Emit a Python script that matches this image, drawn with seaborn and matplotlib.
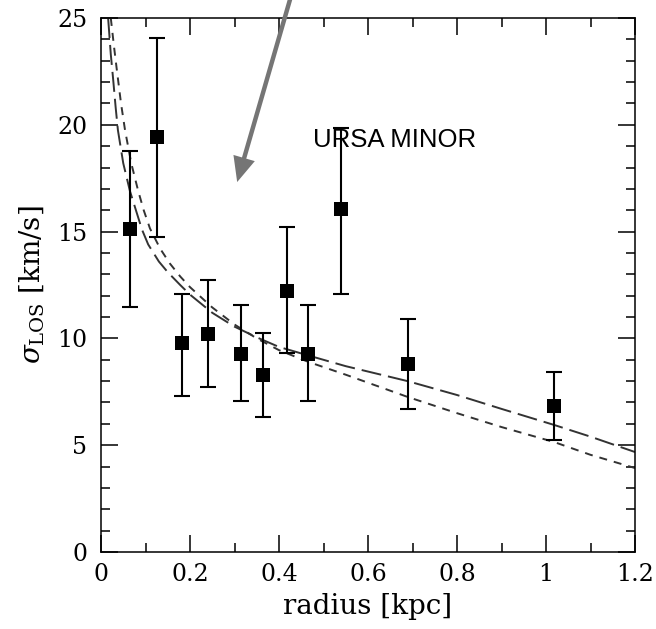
import numpy as np
import pandas as pd
import matplotlib
matplotlib.use("Agg")
import matplotlib.pyplot as plt
from matplotlib.ticker import MultipleLocator
import seaborn as sns

# ---- data ----
radius = [0.065, 0.126, 0.182, 0.241, 0.315, 0.364, 0.418, 0.466, 0.539, 0.689, 1.018]
sigma = [15.12, 19.43, 9.78, 10.20, 9.27, 8.29, 12.22, 9.27, 16.05, 8.80, 6.84]
err_hi = [18.77, 24.06, 12.10, 12.73, 11.56, 10.25, 15.20, 11.56, 19.86, 10.90, 8.43]
err_lo = [11.47, 14.75, 7.30, 7.72, 7.07, 6.32, 9.30, 7.07, 12.10, 6.70, 5.24]

model_a_r = [0.016, 0.022, 0.027, 0.033, 0.038, 0.05, 0.065, 0.08, 0.092, 0.106, 0.13,
             0.15, 0.178, 0.2, 0.25, 0.3, 0.35, 0.4, 0.466, 0.55, 0.689, 0.8, 0.9,
             1.018, 1.1, 1.2]
model_a_s = [25.0, 23.3, 22.2, 20.8, 19.75, 18.2, 16.9, 15.9, 15.1, 14.4, 13.6,
             13.1, 12.5, 12.05, 11.2, 10.55, 10.05, 9.6, 9.2, 8.7, 8.0, 7.35, 6.7,
             5.95, 5.4, 4.68]
model_b_r = [0.022, 0.029, 0.036, 0.045, 0.054, 0.068, 0.083, 0.096, 0.11, 0.133,
             0.155, 0.178, 0.2, 0.25, 0.3, 0.35, 0.4, 0.466, 0.55, 0.689, 0.8, 0.9,
             1.018, 1.1, 1.2]
model_b_s = [25.0, 23.7, 22.5, 21.0, 19.75, 18.2, 16.95, 16.0, 15.15, 14.2,
             13.5, 12.9, 12.4, 11.45, 10.65, 10.0, 9.45, 8.9, 8.3, 7.26, 6.5, 5.85,
             5.15, 4.55, 3.93]

label_text = "URSA MINOR"
xticks = [0, 0.2, 0.4, 0.6, 0.8, 1, 1.2]
xtick_labels = ["0", "0.2", "0.4", "0.6", "0.8", "1", "1.2"]
yticks = [0, 5, 10, 15, 20, 25]

sns.set_theme(style="ticks")
plt.rcParams["font.family"] = ["DejaVu Serif"]
plt.rcParams["mathtext.fontset"] = "dejavuserif"
plt.rcParams["text.color"] = "black"
plt.rcParams["axes.labelcolor"] = "black"
plt.rcParams["xtick.color"] = "black"
plt.rcParams["ytick.color"] = "black"

fig = plt.figure(figsize=(6.56, 6.29), dpi=100)
ax = fig.add_axes([101 / 656, 77 / 629, 534 / 656, 534 / 629])

df_a = pd.DataFrame({"r": model_a_r, "s": model_a_s})
df_b = pd.DataFrame({"r": model_b_r, "s": model_b_s})
lw = 1.4
sns.lineplot(data=df_a, x="r", y="s", ax=ax, color="#333333", lw=lw,
             sort=False, estimator=None, dashes=False)
sns.lineplot(data=df_b, x="r", y="s", ax=ax, color="#333333", lw=lw,
             sort=False, estimator=None, dashes=False)
ax.lines[0].set_dashes((10.3, 3.6))
ax.lines[1].set_dashes((4.1, 3.6))

s_arr = np.array(sigma)
yerr = np.vstack([s_arr - np.array(err_lo), np.array(err_hi) - s_arr])
ax.errorbar(radius, sigma, yerr=yerr, fmt="none", ecolor="black",
            elinewidth=1.5, capsize=6, capthick=1.5, zorder=3)
df_pts = pd.DataFrame({"r": radius, "s": sigma})
sns.scatterplot(data=df_pts, x="r", y="s", ax=ax, marker="s", s=90,
                color="black", edgecolor="black", linewidth=0, zorder=4)

ax.set_xlim(0, 1.2)
ax.set_ylim(0, 25)
ax.set_xticks(xticks)
ax.set_xticklabels(xtick_labels)
ax.set_yticks(yticks)
ax.xaxis.set_minor_locator(MultipleLocator(0.1))
ax.yaxis.set_minor_locator(MultipleLocator(1))
ax.tick_params(which="both", direction="in", top=True, right=True,
               width=1.1, colors="black", labelsize=17)
ax.tick_params(which="major", length=12.5)
ax.tick_params(which="minor", length=6.5)
ax.tick_params(axis="x", which="major", pad=8)
ax.tick_params(axis="y", which="major", pad=10)
for sp in ax.spines.values():
    sp.set_visible(True)
    sp.set_linewidth(1.1)
    sp.set_color("black")

ax.set_xlabel("radius [kpc]", fontsize=20, labelpad=5, color="black")
ax.set_ylabel(r"$\sigma_{\rm LOS}$ [km/s]", fontsize=20, labelpad=8, color="black")

ax.text(0.476, 18.96, label_text, fontsize=18.5, va="baseline", ha="left",
        family=["Liberation Sans", "DejaVu Sans"], color="black", zorder=6)

ax.annotate("", xy=(0.306, 17.32), xytext=(0.435, 26.6),
            xycoords="data", textcoords="data", annotation_clip=False,
            arrowprops=dict(facecolor="#757575", edgecolor="none",
                            width=3.2, headwidth=16, headlength=18, shrink=0),
            zorder=7)

fig.savefig("out.png", dpi=100)
